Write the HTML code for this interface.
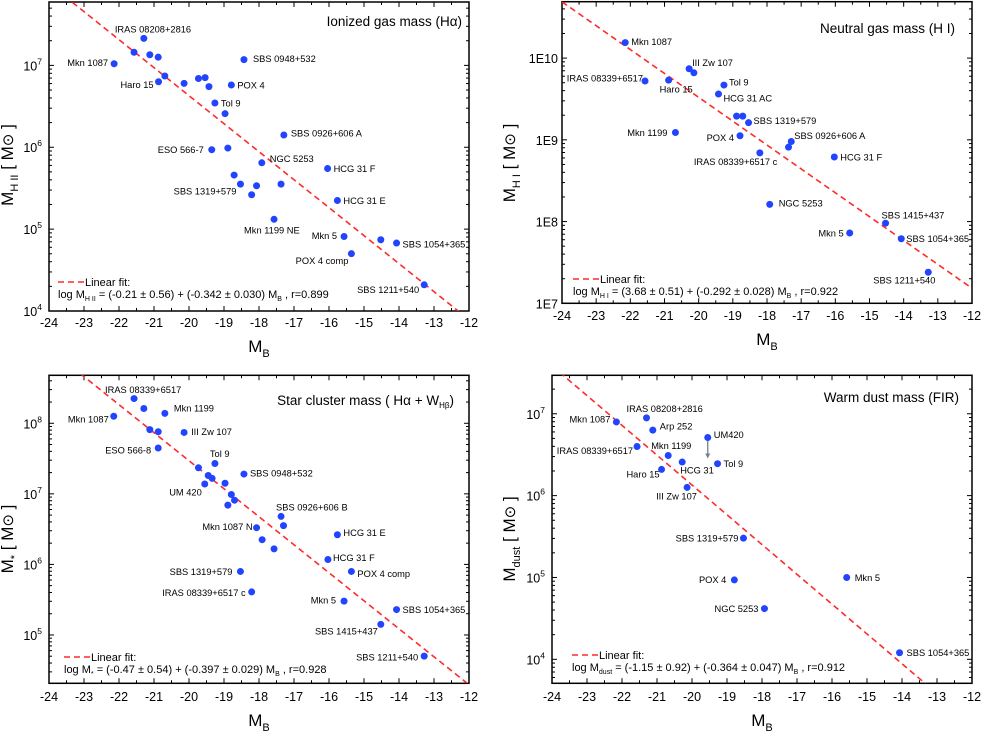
<!DOCTYPE html>
<html><head><meta charset="utf-8"><style>
html,body{margin:0;padding:0;background:#fff;}
svg{display:block;font-family:"Liberation Sans",Arial,sans-serif;}
</style></head><body>
<svg id="fig" width="981" height="732" viewBox="0 0 981 732" xmlns="http://www.w3.org/2000/svg"></svg>
<script>
// ===== Panel 1: ionized gas mass =====
const p1Mb = [-21.29,-22.14,-21.57,-21.12,-20.88,-20.69,-20.87,-20.14,-19.73,-19.54,-19.43,-18.79,-18.43,-19.26,-18.97,-17.29,-19.35,-18.89,-17.92,-16.04,-18.71,-18.53,-18.07,-18.21,-17.37,-15.76,-17.57,-15.57,-14.52,-14.07,-15.36,-13.28];
const p1LogM = [7.33,7.02,7.16,7.13,7.10,6.87,6.80,6.78,6.84,6.85,6.74,6.76,7.07,6.54,6.41,6.15,5.97,5.99,5.81,5.74,5.66,5.55,5.53,5.42,5.55,5.35,5.12,4.91,4.87,4.83,4.70,4.32];
const p1Names = ["IRAS 08208+2816","Mkn 1087","","","","","Haro 15","","","","","POX 4","SBS 0948+532","Tol 9","","SBS 0926+606 A","ESO 566-7","","NGC 5253","HCG 31 F","","SBS 1319+579","","","","HCG 31 E","Mkn 1199 NE","Mkn 5","","SBS 1054+365","POX 4 comp","SBS 1211+540"];
const p1LabelOffsets = [[-29,-9,"start"],[-6,-1,"end"],null,null,null,null,[-5,3,"end"],null,null,null,null,[6,0,"start"],[9,-1,"start"],[6,0,"start"],null,[7,-2,"start"],[-8,0,"end"],null,[8,-4,"start"],[6,0,"start"],null,[-4,7,"end"],null,null,null,[6,0,"start"],[-30,11,"start"],[-7,-1,"end"],null,[6,1,"start"],[-3,7,"end"],[-5,5,"end"]];
const p1YTicks = [4,5,6,7];
const p1Fit = [-0.21,-0.342];

// ===== Panel 2: neutral gas mass =====
const p2Mb = [-22.15,-21.57,-20.88,-20.28,-20.14,-19.26,-19.42,-18.89,-18.71,-18.54,-20.68,-18.79,-17.29,-17.37,-18.21,-16.03,-17.92,-14.53,-15.58,-14.07,-13.28];
const p2LogM = [10.19,9.72,9.73,9.87,9.82,9.67,9.56,9.29,9.29,9.21,9.09,9.05,8.98,8.91,8.84,8.79,8.21,7.98,7.86,7.79,7.38];
const p2Names = ["Mkn 1087","IRAS 08339+6517","Haro 15","III Zw 107","","Tol 9","HCG 31 AC","","","SBS 1319+579","Mkn 1199","POX 4","SBS 0926+606 A","","IRAS 08339+6517 c","HCG 31 F","NGC 5253","SBS 1415+437","Mkn 5","SBS 1054+365","SBS 1211+540"];
const p2LabelOffsets = [[6,-1,"start"],[-2,-3,"end"],[-9,9,"start"],[3,-6,"start"],null,[5,-3,"start"],[5,4,"start"],null,null,[5,-2,"start"],[-8,0,"end"],[-6,2,"end"],[3,-6,"start"],null,[-66,9,"start"],[6,0,"start"],[9,-1,"start"],[-4,-8,"start"],[-6,0,"end"],[5,0,"start"],[-55,8,"start"]];
const p2YTicks = [7,8,9,10];
const p2Fit = [3.68,-0.292];

// ===== Panel 3: star cluster mass =====
const p3Mb = [-21.57,-22.15,-21.29,-20.69,-21.12,-20.88,-20.88,-20.14,-19.73,-19.26,-19.45,-19.34,-19.55,-18.97,-18.43,-18.79,-18.70,-18.89,-17.37,-17.30,-18.07,-17.91,-17.57,-15.76,-16.03,-15.36,-18.53,-18.21,-15.57,-14.07,-14.52,-13.28];
const p3LogM = [8.35,8.10,8.21,8.14,7.91,7.88,7.65,7.87,7.37,7.43,7.26,7.22,7.14,7.15,7.28,6.99,6.91,6.84,6.68,6.55,6.52,6.35,6.22,6.42,6.07,5.90,5.90,5.61,5.48,5.36,5.15,4.70];
const p3Names = ["IRAS 08339+6517","Mkn 1087","","Mkn 1199","","","ESO 566-8","III Zw 107","","Tol 9","","","UM 420","","SBS 0948+532","","","","SBS 0926+606 B","","Mkn 1087 N","","","HCG 31 E","HCG 31 F","POX 4 comp","SBS 1319+579","IRAS 08339+6517 c","Mkn 5","SBS 1054+365","SBS 1415+437","SBS 1211+540"];
const p3LabelOffsets = [[-29,-9,"start"],[-5,3,"end"],null,[9,-5,"start"],null,null,[-7,2,"end"],[7,-1,"start"],null,[-5,-10,"start"],null,null,[-3,8,"end"],null,[6,-1,"start"],null,null,null,[-5,-9,"start"],null,[-4,-1,"end"],null,null,[6,-2,"start"],[5,-2,"start"],[6,2,"start"],[-8,0,"end"],[-6,1,"end"],[-8,-1,"end"],[6,0,"start"],[-3,7,"end"],[-6,1,"end"]];
const p3YTicks = [5,6,7,8];
const p3Fit = [-0.47,-0.397];

// ===== Panel 4: warm dust mass =====
const p4Mb = [-22.16,-21.30,-21.12,-19.55,-21.57,-20.68,-20.28,-19.27,-20.87,-20.14,-18.53,-18.79,-17.93,-15.58,-14.07];
const p4LogM = [6.90,6.95,6.80,6.71,6.60,6.49,6.41,6.39,6.32,6.10,5.48,4.97,4.62,5.00,4.08];
const p4Names = ["Mkn 1087","IRAS 08208+2816","Arp 252","UM420","IRAS 08339+6517","Mkn 1199","HCG 31","Tol 9","Haro 15","III Zw 107","SBS 1319+579","POX 4","NGC 5253","Mkn 5","SBS 1054+365"];
const p4LabelOffsets = [[-6,-3,"end"],[-20,-9,"start"],[7,-4,"start"],[6,-3,"start"],[-4,4,"end"],[-17,-10,"start"],[-2,8,"start"],[6,0,"start"],[-2,5,"end"],[-31,9,"start"],[-5,0,"end"],[-8,0,"end"],[-6,0,"end"],[8,0,"start"],[7,0,"start"]];
const p4UpperLimit = [false,false,false,true,false,false,false,false,false,false,false,false,false,false,false];
const p4YTicks = [4,5,6,7];
const p4Fit = [-1.15,-0.364];

const xTicks = [-24,-23,-22,-21,-20,-19,-18,-17,-16,-15,-14,-13,-12];

const NS = "http://www.w3.org/2000/svg";
const svg = document.getElementById('fig');
function mk(tag, attrs, parent){
  const e = document.createElementNS(NS, tag);
  for (const k in attrs) e.setAttribute(k, attrs[k]);
  (parent||svg).appendChild(e);
  return e;
}

function panel(cfg){
  const g = mk('g', {});
  
  
  const X = v => cfg.x0 + (v - (-24)) / 12 * (cfg.x1 - cfg.x0);
  const Y = l => cfg.y1 - (l - cfg.lmin) / (cfg.lmax - cfg.lmin) * (cfg.y1 - cfg.y0);

  // ticks
  const tg = mk('g', {stroke:'#000','stroke-width':1}, g);
  
  
  for (let v = -24; v <= -12.0001; v += 0.5) {
    const x = X(v); const major = Math.abs(v - Math.round(v)) < 1e-6;
    const L = major ? 5 : 3;
    mk('line', {x1:x, y1:cfg.y1, x2:x, y2:cfg.y1 - L}, tg);
    mk('line', {x1:x, y1:cfg.y0, x2:x, y2:cfg.y0 + L}, tg);
  }
  for (let d = Math.floor(cfg.lmin); d <= Math.ceil(cfg.lmax); d++) {
    for (let k = 1; k <= 9; k++) {
      const l = d + Math.log10(k);
      if (l < cfg.lmin || l > cfg.lmax) continue;
      const y = Y(l); const L = k === 1 ? 5 : 3;
      mk('line', {x1:cfg.x0, y1:y, x2:cfg.x0 + L, y2:y}, tg);
      mk('line', {x1:cfg.x1, y1:y, x2:cfg.x1 - L, y2:y}, tg);
    }
  }
  // x tick labels
  xTicks.forEach(v => {
    const t = mk('text', {x:X(v), y:cfg.xlabY, 'text-anchor':'middle', 'font-size':12.5}, g);
    
    
    t.textContent = v;
  });
  // y tick labels
  cfg.yTicks.forEach(d => {
    const t = mk('text', {x:cfg.ylabX, y:Y(d) + 5, 'text-anchor':'end', 'font-size':12.5}, g);
    
    
    if (cfg.sci) { t.textContent = '1E' + d; }
    else {
      const a = mk('tspan', {}, t); a.textContent = '10';
      const b = mk('tspan', {dy:-6, 'font-size':8.5}, t); b.textContent = d;
    }
  });
  // frame
  const fr = mk('rect', {x:cfg.x0, y:cfg.y0, width:cfg.x1 - cfg.x0, height:cfg.y1 - cfg.y0, fill:'none', stroke:'#000', 'stroke-width':1.5}, g);
  
  

  // clip
  const cp = mk('clipPath', {id:cfg.name + '-clip'}, g);
  mk('rect', {x:cfg.x0, y:cfg.y0, width:cfg.x1 - cfg.x0, height:cfg.y1 - cfg.y0}, cp);

  // fit line
  const fy = v => cfg.fit[0] + cfg.fit[1] * v;
  const fl = mk('line', {x1:X(-24), y1:Y(fy(-24)), x2:X(-12), y2:Y(fy(-12)), stroke:'#ff2a2a', 'stroke-width':1.6, 'stroke-dasharray':'6,4', 'clip-path':'url(#' + cfg.name + '-clip)'}, g);
  
  

  // points & labels
  cfg.mb.forEach((v, i) => {
    const cx = X(v), cy = Y(cfg.logm[i]);
    if (cfg.upper && cfg.upper[i]) {
      const ar = mk('line', {x1:cx, y1:cy, x2:cx, y2:cy + 19, stroke:'#778088', 'stroke-width':1.3}, g);
      
      
      const ah = mk('path', {d:`M${cx-2.5},${cy+16} L${cx},${cy+21} L${cx+2.5},${cy+16} Z`, fill:'#778088'}, g);
      
      
    }
    const c = mk('circle', {cx:cx, cy:cy, r:3.5, fill:'#2244ff'}, g);
    
    
    const nm = cfg.names[i], off = cfg.offs[i];
    if (nm && off) {
      const t = mk('text', {x:cx + off[0], y:cy + off[1] + 3.3, 'text-anchor':off[2], 'font-size':9.3}, g);
      
      
      t.textContent = nm;
    }
  });

  // title
  const tt = mk('text', {x:cfg.titleX, y:cfg.titleY, 'text-anchor':'end', 'font-size':13.5}, g);
  
  
  tt.innerHTML = cfg.title;

  // legend
  const lg = mk('g', {}, g);
  
  
  mk('line', {x1:cfg.legX, y1:cfg.legY, x2:cfg.legX + 26, y2:cfg.legY, stroke:'#ff2a2a', 'stroke-width':1.6, 'stroke-dasharray':'6,4'}, lg);
  const lt = mk('text', {x:cfg.legX + 27, y:cfg.legY + 4, 'font-size':11}, lg);
  lt.textContent = 'Linear fit:';
  const eq = mk('text', {x:cfg.legX, y:cfg.legY + 16, 'font-size':11}, lg);
  
  
  eq.innerHTML = cfg.eq;

  // axis titles
  const xt = mk('text', {x:cfg.xtX, y:cfg.xtY, 'text-anchor':'middle', 'font-size':17}, g);
  
  
  xt.innerHTML = 'M<tspan dy="5" font-size="11">B</tspan>';
  const yt = mk('text', {x:0, y:0, 'text-anchor':'middle', 'font-size':17, transform:`translate(${cfg.ytX},${cfg.ytY}) rotate(-90)`}, g);
  
  
  yt.innerHTML = cfg.ytitle;
}

const ytSun = ' [ M<tspan font-size="15">⊙</tspan> ]';
panel({name:'ionized-gas-panel', x0:49, x1:469, y0:2, y1:311, lmin:4, lmax:7.774, yTicks:p1YTicks, sci:false, mb:p1Mb, logm:p1LogM, names:p1Names, offs:p1LabelOffsets, fit:p1Fit,
  xlabY:327, ylabX:42, title:'Ionized gas mass (Hα)', titleX:462, titleY:26, legX:58, legY:282,
  eq:'log M<tspan dy="3" font-size="7">H II</tspan><tspan dy="-3"> = (-0.21 ± 0.56) + (-0.342 ± 0.030) M</tspan><tspan dy="3" font-size="7">B</tspan><tspan dy="-3"> , r=0.899</tspan>',
  xtX:259, xtY:352, ytX:13, ytY:165, ytitle:'M<tspan dy="5" font-size="11">H II</tspan><tspan dy="-5">' + ytSun + '</tspan>'});
panel({name:'neutral-gas-panel', x0:562, x1:972, y0:1.7, y1:303.3, lmin:7, lmax:10.69, yTicks:p2YTicks, sci:true, mb:p2Mb, logm:p2LogM, names:p2Names, offs:p2LabelOffsets, fit:p2Fit,
  xlabY:320, ylabX:558, title:'Neutral gas mass (H I)', titleX:955, titleY:33, legX:573, legY:279,
  eq:'log M<tspan dy="3" font-size="7">H I</tspan><tspan dy="-3"> = (3.68 ± 0.51) + (-0.292 ± 0.028) M</tspan><tspan dy="3" font-size="7">B</tspan><tspan dy="-3"> , r=0.922</tspan>',
  xtX:767, xtY:345, ytX:515, ytY:163, ytitle:'M<tspan dy="5" font-size="11">H I</tspan><tspan dy="-5">' + ytSun + '</tspan>'});
panel({name:'star-cluster-panel', x0:49, x1:469, y0:375.3, y1:683.3, lmin:4.315, lmax:8.68, yTicks:p3YTicks, sci:false, mb:p3Mb, logm:p3LogM, names:p3Names, offs:p3LabelOffsets, fit:p3Fit,
  xlabY:701, ylabX:42, title:'Star cluster mass ( Hα + W<tspan dy="3" font-size="8">Hβ</tspan><tspan dy="-3">)</tspan>', titleX:454, titleY:405, legX:64, legY:657,
  eq:'log M<tspan dy="3" font-size="7">*</tspan><tspan dy="-3"> = (-0.47 ± 0.54) + (-0.397 ± 0.029) M</tspan><tspan dy="3" font-size="7">B</tspan><tspan dy="-3"> , r=0.928</tspan>',
  xtX:259, xtY:726, ytX:13, ytY:539, ytitle:'M<tspan dy="5" font-size="11">*</tspan><tspan dy="-5">' + ytSun + '</tspan>'});
panel({name:'warm-dust-panel', x0:552, x1:972, y0:375.3, y1:683.3, lmin:3.707, lmax:7.47, yTicks:p4YTicks, sci:false, mb:p4Mb, logm:p4LogM, names:p4Names, offs:p4LabelOffsets, fit:p4Fit, upper:p4UpperLimit,
  xlabY:701, ylabX:545, title:'Warm dust mass (FIR)', titleX:959, titleY:402, legX:572, legY:655,
  eq:'log M<tspan dy="3" font-size="7">dust</tspan><tspan dy="-3"> = (-1.15 ± 0.92) + (-0.364 ± 0.047) M</tspan><tspan dy="3" font-size="7">B</tspan><tspan dy="-3"> , r=0.912</tspan>',
  xtX:762, xtY:726, ytX:515, ytY:539, ytitle:'M<tspan dy="5" font-size="11">dust</tspan><tspan dy="-5">' + ytSun + '</tspan>'});
</script>
</body></html>
